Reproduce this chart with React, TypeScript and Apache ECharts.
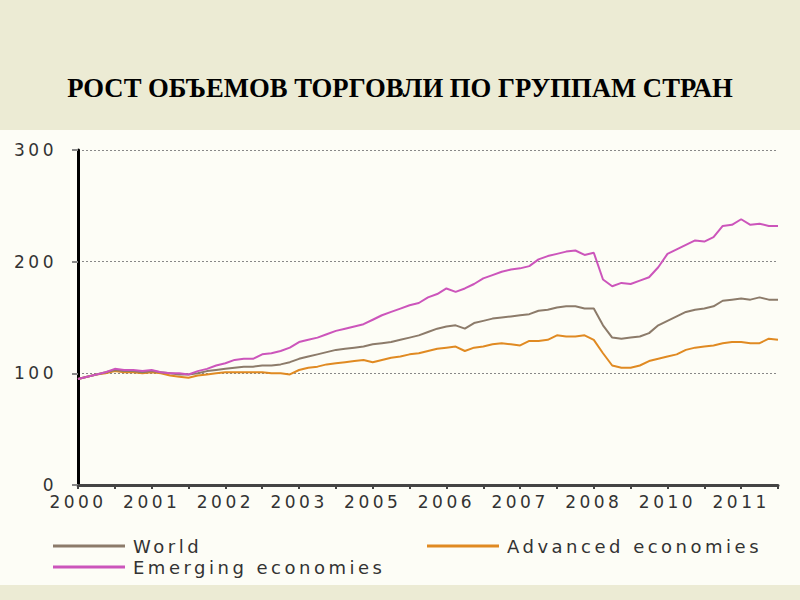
import React, { useEffect, useRef } from "react";
import * as echarts from "echarts";

const yearLabels = ["2000", "2001", "2002", "2003", "2005", "2006", "2007", "2008", "2010", "2011"];
const yTicks = [0, 100, 200, 300];

// one value every quarter tick (the axis has 19 ticks, labelled every 2nd)
const world = [
  95, 97, 99, 101, 103, 102, 102, 101, 102, 101, 100, 99, 99, 100, 102, 103, 104, 105, 106, 106,
  107, 107, 108, 110, 113, 115, 117, 119, 121, 122, 123, 124, 126, 127, 128, 130, 132, 134, 137, 140,
  142, 143, 140, 145, 147, 149, 150, 151, 152, 153, 156, 157, 159, 160, 160, 158, 158, 143, 132, 131,
  132, 133, 136, 143, 147, 151, 155, 157, 158, 160, 165, 166, 167, 166, 168, 166, 166,
];
const advanced = [
  95, 97, 99, 100, 102, 101, 101, 100, 101, 100, 98, 97, 96, 98, 99, 100, 101, 101, 101, 101,
  101, 100, 100, 99, 103, 105, 106, 108, 109, 110, 111, 112, 110, 112, 114, 115, 117, 118, 120, 122,
  123, 124, 120, 123, 124, 126, 127, 126, 125, 129, 129, 130, 134, 133, 133, 134, 130, 118, 107, 105,
  105, 107, 111, 113, 115, 117, 121, 123, 124, 125, 127, 128, 128, 127, 127, 131, 130,
];
const emerging = [
  95, 97, 99, 101, 104, 103, 103, 102, 103, 101, 100, 100, 99, 102, 104, 107, 109, 112, 113, 113,
  117, 118, 120, 123, 128, 130, 132, 135, 138, 140, 142, 144, 148, 152, 155, 158, 161, 163, 168, 171,
  176, 173, 176, 180, 185, 188, 191, 193, 194, 196, 202, 205, 207, 209, 210, 206, 208, 184, 178, 181,
  180, 183, 186, 195, 207, 211, 215, 219, 218, 222, 232, 233, 238, 233, 234, 232, 232,
];

const STEP = 0.25;
const toPts = (arr: number[]) => arr.map((v, i) => [i * STEP, v]);

const WIDE_FONT = "DejaVu Sans";

export default function App() {
  const ref = useRef<HTMLDivElement>(null);
  useEffect(() => {
    if (!ref.current) return;
    const chart = echarts.init(ref.current, null, { renderer: "svg" });
    const legendText = { fontFamily: WIDE_FONT, fontSize: 18, color: "#333", padding: [0, 0, 0, 3] };
    const legendBase = { itemWidth: 72, itemHeight: 3, icon: "rect", textStyle: legendText };
    chart.setOption({
      animation: false,
      backgroundColor: "#FDFDF6",
      graphic: [
        { type: "rect", shape: { x: 0, y: 0, width: 800, height: 130 }, style: { fill: "#ECEBD4" }, z: -10 },
        { type: "rect", shape: { x: 0, y: 585, width: 800, height: 15 }, style: { fill: "#ECEBD4" }, z: -10 },
      ],
      title: {
        text: "РОСТ ОБЪЕМОВ ТОРГОВЛИ ПО ГРУППАМ СТРАН",
        left: "center",
        top: 69,
        textStyle: {
          fontFamily: "Liberation Serif",
          fontWeight: "bold",
          fontSize: 26.7,
          color: "#000",
        },
      },
      grid: { left: 78, right: 22, top: 150, bottom: 115 },
      xAxis: {
        type: "value",
        min: 0,
        max: 19,
        interval: 1,
        axisLine: { show: true, onZero: false, lineStyle: { color: "#444", width: 3 } },
        axisTick: { show: true, length: 4, lineStyle: { color: "#444", width: 2 } },
        splitLine: { show: false },
        axisLabel: {
          margin: 10,
          lineHeight: 14,
          fontFamily: WIDE_FONT,
          fontSize: 17,
          color: "#333",
          showMaxLabel: true,
          formatter: (v: number) => {
            const i = Math.round(v);
            return i % 2 === 0 ? yearLabels[i / 2] ?? "" : "";
          },
        },
      },
      yAxis: {
        type: "value",
        min: yTicks[0],
        max: yTicks[yTicks.length - 1],
        interval: 100,
        axisLine: { show: true, lineStyle: { color: "#000", width: 3 } },
        axisTick: { show: true, length: 6, lineStyle: { color: "#888", width: 2 } },
        splitLine: { show: true, lineStyle: { color: "#888", type: [2, 2], width: 1 } },
        axisLabel: { margin: 21, lineHeight: 14, fontFamily: WIDE_FONT, fontSize: 17, color: "#333" },
      },
      legend: [
        { ...legendBase, data: ["World"], left: 48, top: 532 },
        { ...legendBase, data: ["Advanced economies"], left: 422, top: 532 },
        { ...legendBase, data: ["Emerging economies"], left: 48, top: 553 },
      ],
      series: [
        {
          name: "World",
          type: "line",
          data: toPts(world),
          showSymbol: false,
          itemStyle: { color: "#8C7B6A" },
          lineStyle: { color: "#8C7B6A", width: 2 },
          z: 3,
        },
        {
          name: "Advanced economies",
          type: "line",
          data: toPts(advanced),
          showSymbol: false,
          itemStyle: { color: "#E08A22" },
          lineStyle: { color: "#E08A22", width: 2 },
          z: 2,
        },
        {
          name: "Emerging economies",
          type: "line",
          data: toPts(emerging),
          showSymbol: false,
          itemStyle: { color: "#CC55BB" },
          lineStyle: { color: "#CC55BB", width: 2 },
          z: 4,
        },
      ],
    });
    return () => chart.dispose();
  }, []);
  return (
    <>
      <style>{`text[style*="DejaVu"]{letter-spacing:3.5px}`}</style>
      <div
        ref={ref}
        style={{ position: "absolute", left: 0, top: 0, width: 800, height: 600 }}
      />
    </>
  );
}
